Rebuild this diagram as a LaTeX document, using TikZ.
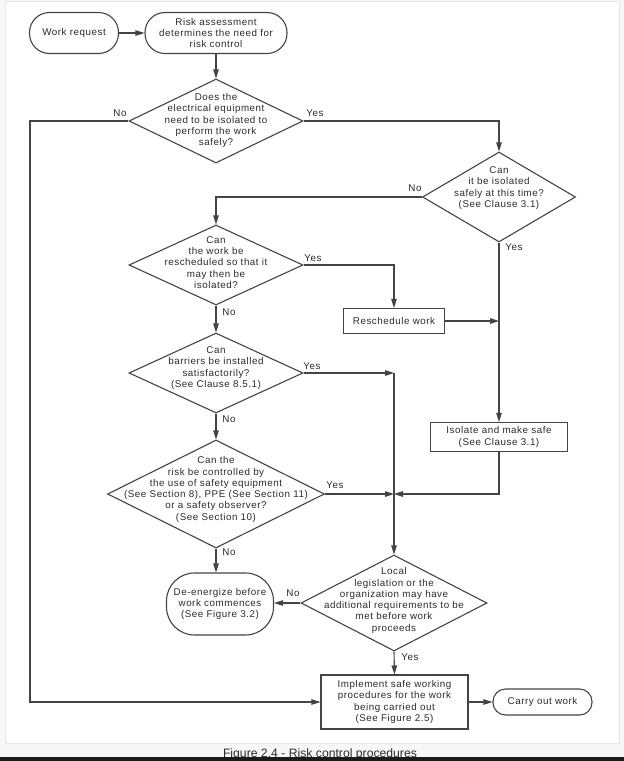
\documentclass[tikz,border=0pt]{standalone}
\usepackage{fontspec}
\usepackage{tikz}
\usetikzlibrary{arrows.meta,shapes.geometric}
\usepackage{xcolor}
\newfontfamily\flowfont[LetterSpace=5.5]{Liberation Sans}
\newfontfamily\capfont{Liberation Sans}
\definecolor{color444444}{HTML}{444444}
\definecolor{color2b2b2b}{HTML}{2B2B2B}
\definecolor{colore6e6e6}{HTML}{E6E6E6}
\definecolor{colorf7f7f7}{HTML}{F7F7F7}
\definecolor{color1a1a1a}{HTML}{1A1A1A}

\begin{document}
\begin{tikzpicture}
    [>={Triangle[length=9pt,width=5.5pt]},  % uniform arrow style
     x=1pt, y=-1pt,
     every node/.style={text=color2b2b2b, font=\flowfont\fontsize{9.8}{11.3}\selectfont, align=center},
     flowline/.style={draw=color444444, line width=1.1pt},
     decision/.style={diamond, draw=color444444, line width=1.1pt, inner sep=0pt},
     procbox/.style={rectangle, draw=color444444, line width=1.1pt, inner sep=0pt},
     termbox/.style={rectangle, rounded corners=#1, draw=color444444, line width=1.1pt, inner sep=0pt},
    ]

\useasboundingbox (0,0) rectangle (624,761);
\fill[colorf7f7f7] (0,0) rectangle (624,761);
\draw[colore6e6e6, fill=white, line width=1pt] (5,1) rectangle (619,743);

\node[termbox=20pt, minimum width=89, minimum height=41] (node_request) at (74,33) {Work request};
\node[termbox=20pt, minimum width=142, minimum height=41] (node_assess) at (216,33) {Risk assessment\\determines the need for\\risk control};
\node[decision, minimum width=174, minimum height=84] (node_needisol) at (216,121) {};
\node (node_needisol_txt) at (216,120.5) {Does the\\electrical equipment\\need to be isolated to\\perform the work\\safely?};
\node[decision, minimum width=153, minimum height=90] (node_cansafe) at (499,197) {};
\node (node_cansafe_txt) at (499,188) {Can\\it be isolated\\safely at this time?\\(See Clause 3.1)};
\node[decision, minimum width=174, minimum height=80] (node_canresched) at (216,265) {};
\node (node_canresched_txt) at (216,262.5) {Can\\the work be\\rescheduled so that it\\may then be\\isolated?};
\node[procbox, minimum width=101, minimum height=25] (node_reschedwork) at (394,321) {Reschedule work};
\node[decision, minimum width=174, minimum height=80] (node_barrier) at (216,373) {};
\node (node_barrier_txt) at (216,368) {Can\\barriers be installed\\satisfactorily?\\(See Clause 8.5.1)};
\node[procbox, minimum width=137, minimum height=29] (node_isolate) at (499,437) {Isolate and make safe\\(See Clause 3.1)};
\node[decision, minimum width=217, minimum height=108] (node_control) at (216,494) {};
\node (node_control_txt) at (216,489.5) {Can the\\risk be controlled by\\the use of safety equipment\\(See Section 8), PPE (See Section 11)\\or a safety observer?\\(See Section 10)};
\node[termbox=28pt, minimum width=107, minimum height=62] (node_deenergize) at (220,604) {De-energize before\\work commences\\(See Figure 3.2)};
\node[decision, minimum width=186, minimum height=96] (node_local) at (394,603) {};
\node (node_local_txt) at (394,600.5) {Local\\legislation or the\\organization may have\\additional requirements to be\\met before work\\proceeds};
\node[procbox, minimum width=147, minimum height=54] (node_implement) at (394.5,702) {Implement safe working\\procedures for the work\\being carried out\\(See Figure 2.5)};
\node[termbox=12.5pt, minimum width=99, minimum height=26] (node_carry) at (542.5,702) {Carry out work};

% answers
\node (node_no_a) at (120,113) {No};
\node (node_yes_a) at (315,113) {Yes};
\node (node_no_b) at (415,188) {No};
\node (node_yes_b) at (514,247) {Yes};
\node (node_yes_c) at (313,258) {Yes};
\node (node_no_c) at (229,312) {No};
\node (node_yes_d) at (312,366) {Yes};
\node (node_no_d) at (229,419) {No};
\node (node_yes_e) at (335,485) {Yes};
\node (node_no_e) at (229,552) {No};
\node (node_no_f) at (293,593) {No};
\node (node_yes_f) at (410,657) {Yes};

\coordinate (corner_left) at (30,121);
\coordinate (join_a) at (node_local.north |- node_barrier.east);
\coordinate (join_b) at (node_local.north |- node_control.east);

\draw[flowline,->] (node_request.east) -- (node_assess.west);
\draw[flowline,->] (node_assess.south) -- (node_needisol.north);
\draw[flowline,->] (node_needisol.west) -- (corner_left) |- (node_implement.west);
\draw[flowline,->] (node_needisol.east) -| (node_cansafe.north);
\draw[flowline,->] (node_cansafe.west) -| (node_canresched.north);
\draw[flowline,->] (node_canresched.east) -| (node_reschedwork.north);
\draw[flowline,->] (node_reschedwork.east) -- (node_reschedwork.east -| node_cansafe.south);
\draw[flowline,->] (node_cansafe.south) -- (node_isolate.north);
\draw[flowline,->] (node_canresched.south) -- (node_barrier.north);
\draw[flowline,->] (node_barrier.south) -- (node_control.north);
\draw[flowline,->] (node_control.south) -- (node_control.south |- node_deenergize.north);
\draw[flowline,->] (node_barrier.east) -- (join_a);
\draw[flowline,->] (join_a) -- (node_local.north);
\draw[flowline,->] (node_control.east) -- (join_b);
\draw[flowline,->] (node_isolate.south) |- (join_b);
\draw[flowline,->] (node_local.west) -- (node_local.west -| node_deenergize.east);
\draw[flowline,->] (node_local.south) -- (node_implement.north);
\draw[flowline,->] (node_implement.east) -- (node_carry.west);

\node[font=\capfont\fontsize{12.2}{14}\selectfont, anchor=base] (node_caption) at (320,757) {Figure 2.4 - Risk control procedures};
\fill[color1a1a1a] (0,757) rectangle (624,761);

\end{tikzpicture}
\end{document}
